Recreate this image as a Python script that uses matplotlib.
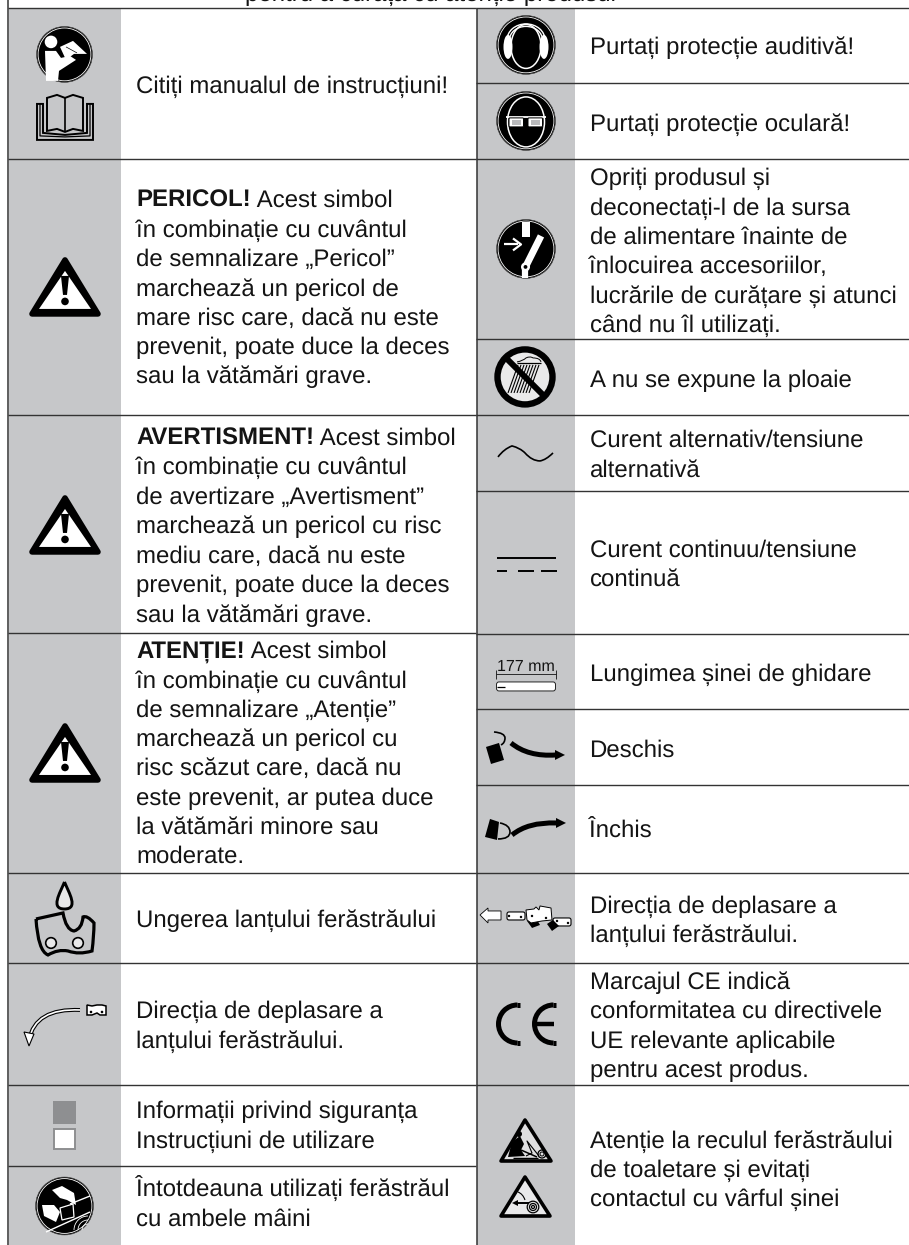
import matplotlib
matplotlib.use('Agg')
import matplotlib.pyplot as plt
from matplotlib.patches import Circle, Ellipse, Polygon, PathPatch, Rectangle, FancyBboxPatch, Arc
from matplotlib.path import Path

GRAY = '#c6c7c9'
LINE = '#333333'
INK = '#141414'
FS = 17.55

# table layout (pixels)
left_edges = [8, 159, 415, 633, 873, 963, 1085, 1166]
right_edges = [8, 83, 159, 339, 415, 491, 634, 709, 785, 873, 963, 1085]

# (baseline, text) per cell
left_lines = [
    (93, 'Citiți manualul de instrucțiuni!'),
    (236.5, 'în combinație cu cuvântul'),
    (266, 'de semnalizare „Pericol”'),
    (295.5, 'marchează un pericol de'),
    (325, 'mare risc care, dacă nu este'),
    (354, 'prevenit, poate duce la deces'),
    (383, 'sau la vătămări grave.'),
    (474, 'în combinație cu cuvântul'),
    (503.5, 'de avertizare „Avertisment”'),
    (533, 'marchează un pericol cu risc'),
    (562.5, 'mediu care, dacă nu este'),
    (592, 'prevenit, poate duce la deces'),
    (621.5, 'sau la vătămări grave.'),
    (688, 'în combinație cu cuvântul'),
    (717, 'de semnalizare „Atenție”'),
    (746, 'marchează un pericol cu'),
    (775, 'risc scăzut care, dacă nu'),
    (804.5, 'este prevenit, ar putea duce'),
    (834, 'la vătămări minore sau'),
    (863, 'moderate.'),
    (927, 'Ungerea lanțului ferăstrăului'),
    (1018, 'Direcția de deplasare a'),
    (1048, 'lanțului ferăstrăului.'),
    (1118, 'Informații privind siguranța'),
    (1148, 'Instrucțiuni de utilizare'),
    (1197, 'Întotdeauna utilizați ferăstrăul'),
    (1226, 'cu ambele mâini'),
]
left_bold = [
    (207, 'PERICOL!', ' Acest simbol'),
    (445, 'AVERTISMENT!', ' Acest simbol'),
    (658, 'ATENȚIE!', ' Acest simbol'),
]
right_lines = [
    (54, 'Purtați protecție auditivă!'),
    (131, 'Purtați protecție oculară!'),
    (185, 'Opriți produsul și'),
    (214.5, 'deconectați-l de la sursa'),
    (244, 'de alimentare înainte de'),
    (273, 'înlocuirea accesoriilor,'),
    (303, 'lucrările de curățare și atunci'),
    (332, 'când nu îl utilizați.'),
    (387, 'A nu se expune la ploaie'),
    (447, 'Curent alternativ/tensiune'),
    (477, 'alternativă'),
    (557, 'Curent continuu/tensiune'),
    (586, 'continuă'),
    (681, 'Lungimea șinei de ghidare'),
    (757, 'Deschis'),
    (838, 'Închis'),
    (913, 'Direcția de deplasare a'),
    (942, 'lanțului ferăstrăului.'),
    (989, 'Marcajul CE indică'),
    (1018, 'conformitatea cu directivele'),
    (1048, 'UE relevante aplicabile'),
    (1077, 'pentru acest produs.'),
    (1148, 'Atenție la reculul ferăstrăului'),
    (1177, 'de toaletare și evitați'),
    (1206, 'contactul cu vârful șinei'),
]
top_text = 'pentru a curăța cu atenție produsul'

plt.rcParams['font.family'] = ['Liberation Sans', 'DejaVu Sans']
plt.rcParams['text.hinting'] = 'no_hinting'
plt.rcParams['text.hinting_factor'] = 1

fig = plt.figure(figsize=(9.09, 12.451), dpi=100)
ax = fig.add_axes([0, 0, 1, 1])
ax.set_xlim(0, 909)
ax.set_ylim(1245, 0)
ax.axis('off')


def poly(pts, fc='black', ec='none', lw=0, z=3, **kw):
    ax.add_patch(Polygon(pts, closed=True, fc=fc, ec=ec, lw=lw, zorder=z, **kw))


def curve(pts, color='black', lw=1.0, z=3, cap='butt'):
    # quadratic bezier segments through control points
    codes = [Path.MOVETO] + [Path.CURVE3] * (len(pts) - 1)
    ax.add_patch(PathPatch(Path(pts, codes), fc='none', ec=color, lw=lw, zorder=z, capstyle=cap))


def seg(xs, ys, color='black', lw=1.0, z=3, cap='butt'):
    ax.plot(xs, ys, color=color, lw=lw, zorder=z, solid_capstyle=cap)


def disk(cx, cy, r):
    ax.add_patch(Circle((cx, cy), r, fc='black', ec='none', zorder=3))
    ax.add_patch(Circle((cx, cy), r - 1.6, fc='none', ec='white', lw=0.6, zorder=4))
    ax.add_patch(Circle((cx, cy), r - 0.1, fc='none', ec='#555555', lw=0.5, zorder=4))


def warning(cx, top):
    poly([(cx, top + 6), (cx - 33, top + 60), (cx + 33, top + 60)], ec='black', lw=4.0, joinstyle='round')
    poly([(cx, top + 17), (cx - 26, top + 55), (cx + 26, top + 55)], fc='white', z=4)
    poly([(cx - 4, top + 22), (cx + 4, top + 22), (cx + 2, top + 41), (cx - 2, top + 41)], z=5)
    ax.add_patch(Circle((cx, top + 47.5), 3.8, fc='black', zorder=5))


# cells
ax.add_patch(Rectangle((9, 8), 112, 1237, fc=GRAY, ec='none', zorder=1))
ax.add_patch(Rectangle((477, 8), 98, 1237, fc=GRAY, ec='none', zorder=1))
seg([8, 8], [0, 1245], LINE, 1.1, 2)
seg([476.5, 476.5], [8, 1245], LINE, 1.1, 2)
for y in left_edges:
    seg([8, 476], [y, y], LINE, 1.0, 2)
for y in right_edges:
    seg([476, 909], [y, y], LINE, 1.0, 2)

# text
ax.text(430, 0.5, top_text, fontsize=FS, color=INK, ha='center', va='baseline', clip_on=True)
for y, s in left_lines:
    ax.text(136, y, s, fontsize=FS, color=INK, va='baseline')
for y, s in right_lines:
    ax.text(589.5, y, s, fontsize=FS, color=INK, va='baseline')
fig.canvas.draw()
rend = fig.canvas.get_renderer()
for y, b, s in left_bold:
    t = ax.text(136, y, b, fontsize=FS, color=INK, va='baseline', fontweight='bold')
    ext = t.get_window_extent(rend)
    ax.text(ext.x1, y, s, fontsize=FS, color=INK, va='baseline')

# read manual
disk(64.5, 54.5, 28)
ax.add_patch(Circle((51, 42), 6.3, fc='white', zorder=5))
poly([(45, 51), (56, 51), (61, 58), (70, 56), (76, 60), (59, 71), (58, 81), (46, 81)], fc='white', z=5)
poly([(60, 47), (73, 41), (87, 54), (74, 54), (66, 60)], fc='white', z=5)
seg([66, 77], [47, 53], 'black', 0.5, 6)

# book
poly([(37, 104), (43, 104), (43, 133), (65, 135), (87, 133), (87, 104), (93, 104), (93, 140), (37, 140)],
     fc='none', ec='black', lw=1.4)
seg([40, 40, 65, 90, 90], [104, 136, 137, 136, 104], 'black', 0.9)
poly([(47, 98), (57, 95), (65, 98), (73, 95), (83, 98), (83, 131), (73, 129), (65, 132), (57, 129), (47, 131)],
     fc='none', ec='black', lw=1.4)
seg([65, 65], [98, 132], 'black', 1.2)

# warnings
warning(65, 254)
warning(65, 492)
warning(65, 720)

# hearing protection
disk(526, 45, 29.5)
ax.add_patch(Ellipse((526, 46.5), 30, 44, fc='black', ec='white', lw=1.1, zorder=5))
ax.add_patch(Arc((526, 40), 38, 32, theta1=180, theta2=360, ec='white', lw=1.0, zorder=5))
ax.add_patch(Arc((526, 40), 33, 27, theta1=180, theta2=360, ec='white', lw=1.0, zorder=5))
ax.add_patch(Ellipse((508, 47), 9, 24, fc='white', zorder=6))
ax.add_patch(Ellipse((544, 47), 9, 24, fc='white', zorder=6))

# eye protection
disk(526, 121, 29.5)
ax.add_patch(Ellipse((526, 122), 37, 50, fc='black', ec='white', lw=1.1, zorder=5))
seg([506, 546], [117.5, 117.5], 'white', 1.3, 6)
for x0 in (509, 528):
    ax.add_patch(FancyBboxPatch((x0 + 1, 119), 12.5, 7, boxstyle='round,pad=1', fc='white', ec='black', lw=0.7, zorder=6))
    ax.add_patch(Rectangle((x0 + 3, 120.5), 8.5, 5, fc='#b9babc', ec='none', zorder=7))

# switch off
disk(526, 249, 29.5)
ax.add_patch(Rectangle((522, 222), 8, 15.5, fc='white', zorder=5))
seg([525, 541], [268, 236], 'white', 5.0, 5)
seg([525, 525], [268, 278], 'white', 4.5, 5)
ax.add_patch(Circle((525.5, 267), 4.5, fc='white', zorder=6))
ax.add_patch(Circle((525.5, 267), 1.9, fc='black', zorder=7))
seg([504, 518], [244.5, 244.5], 'white', 1.6, 5)
seg([513, 521, 513], [238.5, 244.5, 250.5], 'white', 1.6, 5)

# no rain
ax.add_patch(Circle((525, 377), 27.5, fc='#e9e9ea', ec='black', lw=4.6, zorder=3))
rain_x = [518, 521, 524, 527, 530, 533, 536, 539]
for x in rain_x:
    seg([x, x - 10], [365, 393], 'black', 0.8, 4)
curve([(517, 362), (523, 361), (526, 358), (530, 356), (533, 358), (540, 358), (541, 362)], 'black', 0.7, 4)
seg([517, 541], [363, 363], 'black', 0.9, 4)
seg([506, 544], [358, 396], 'black', 4.3, 5)

# alternating current
curve([(498, 457), (504, 449), (512, 446), (520, 448), (525, 453), (532, 461), (540, 461), (546, 460), (553, 453)], 'black', 1.2)

# direct current
seg([497, 556], [558.5, 558.5], 'black', 1.4)
for xa, xb in ((497, 507), (518, 534), (541, 557)):
    seg([xa, xb], [571, 571], 'black', 1.4)

# bar length
ax.text(526, 671, '177 mm', fontsize=11.6, color=INK, ha='center', va='baseline')
seg([496, 556], [674, 674], '#111111', 0.6)
seg([496, 496], [670, 679], '#111111', 0.6)
seg([555.5, 555.5], [670, 679], '#111111', 0.6)
ax.add_patch(FancyBboxPatch((499, 684.5), 54, 4, boxstyle='round,pad=2.5', fc='white', ec='#222222', lw=0.7, zorder=3))
seg([497, 505], [687, 687], 'black', 0.9, 4)

# open / closed
poly([(486, 747), (499, 743), (504, 760), (491, 764)])
curve([(494, 732), (505, 733), (505, 738), (505, 743), (501, 745)], 'black', 1.2)
curve([(511, 743), (528, 757), (556, 755)], 'black', 3.6)
poly([(565, 755), (555, 750), (555, 760)])
poly([(490, 819), (499, 822), (497, 840), (485, 837)])
curve([(500, 823), (510, 825), (510, 832), (510, 839), (498, 839)], 'black', 1.2)
curve([(512, 835), (528, 822), (556, 823)], 'black', 3.6)
poly([(566, 823), (556, 818), (556, 828)])

# chain direction
poly([(480, 915), (488, 908), (488, 911), (501, 911), (501, 920), (488, 920), (488, 923)], fc='white', ec='black', lw=0.6)
ax.add_patch(FancyBboxPatch((509, 914), 14, 4, boxstyle='round,pad=2', fc='white', ec='black', lw=0.8, zorder=3))
ax.add_patch(FancyBboxPatch((555, 920), 14, 4, boxstyle='round,pad=2', fc='white', ec='black', lw=0.8, zorder=3))
poly([(527, 921), (532, 928), (540, 925), (536, 918)], z=3)
poly([(547, 924), (552, 931), (559, 926), (553, 920)], z=3)
poly([(526, 910), (534, 909), (536, 907), (539, 910), (540, 906), (551, 908), (552, 920), (542, 921), (531, 923), (527, 920)],
     fc='white', ec='black', lw=0.7, z=4)
for x, y in ((509, 916), (521, 917), (532, 916), (546, 918), (557, 921), (568, 923)):
    ax.add_patch(Circle((x, y), 1.2, fc='black', zorder=6))

# oil
drop = Path([(64.5, 882), (60, 893), (50, 909), (64.5, 909), (79, 909), (69, 893), (64.5, 882)],
            [Path.MOVETO] + [Path.CURVE4] * 6)
ax.add_patch(PathPatch(drop, fc='#e8e8e9', ec='black', lw=2.1, zorder=3))
link = Path([(36, 919), (63, 913), (66, 930), (74, 931), (82, 929), (83, 917), (87, 915), (94, 923), (94, 936), (92, 951),
             (79, 955), (68, 951), (58, 949), (48, 955), (38, 951), (36, 919)],
            [Path.MOVETO, Path.LINETO] + [Path.CURVE3] * 14)
ax.add_patch(PathPatch(link, fc=GRAY, ec='black', lw=2.3, zorder=3))
for x in (51, 78):
    ax.add_patch(Circle((x, 943), 5.3, fc='#e8e8e9', ec='black', lw=1.2, zorder=4))

# curved direction arrow
curve([(80, 1010), (35, 1008), (29, 1040)], 'black', 2.8)
curve([(80, 1010), (35, 1008), (29, 1040)], 'white', 1.2, 4)
poly([(29, 1046), (24, 1032), (34, 1034)], fc='white', ec='black', lw=0.8, z=5)
poly([(87, 1005), (92, 1006), (97, 1005), (102, 1005), (106, 1006), (106, 1015), (100, 1015), (97, 1013), (92, 1015), (87, 1015)],
     fc='white', ec='black', lw=1.1)
for x in (91, 102):
    ax.add_patch(Circle((x, 1012), 1.3, fc='black', zorder=5))

# info squares
ax.add_patch(Rectangle((53, 1101), 23, 23, fc='#8e8f91', ec='none', zorder=3))
ax.add_patch(Rectangle((54, 1129), 21, 20, fc='white', ec='#8e8f91', lw=1.4, zorder=3))

# two hands
disk(64.5, 1206, 29)
poly([(52, 1190), (62, 1186), (74, 1193), (76, 1205), (67, 1200), (60, 1198)], fc='white', z=5)
poly([(42, 1205), (54, 1205), (60, 1212), (56, 1222), (44, 1216)], fc='white', z=5)
poly([(60, 1208), (73, 1204), (74, 1217), (62, 1220)], fc='black', ec='white', lw=0.9, z=6)
seg([46, 90], [1232, 1212], 'white', 1.0, 5)
seg([70, 90], [1204, 1196], 'white', 1.0, 5)
for r in (6, 10, 14):
    ax.add_patch(Arc((88, 1230), 2 * r, 2 * r, theta1=180, theta2=270, ec='white', lw=0.6, zorder=5))

# CE mark
ax.add_patch(Arc((517.5, 1024), 38, 38, theta1=90, theta2=270, ec='black', lw=3.6, zorder=3))
ax.add_patch(Arc((553.5, 1024), 38, 38, theta1=90, theta2=270, ec='black', lw=3.6, zorder=3))
seg([517, 519.5], [1005, 1005], 'black', 3.6)
seg([517, 519.5], [1043, 1043], 'black', 3.6)
seg([553, 556], [1005, 1005], 'black', 3.6)
seg([553, 556], [1043, 1043], 'black', 3.6)
seg([536, 554], [1024, 1024], 'black', 3.2)

# kickback
poly([(525, 1120), (501, 1161), (551, 1161)], fc='#dfdfe0', ec='black', lw=2.6, joinstyle='round')
poly([(508, 1157), (512, 1142), (520, 1136), (524, 1144), (521, 1150), (525, 1156)], z=4)
ax.add_patch(Circle((519, 1134), 3, fc='black', zorder=4))
seg([521, 537], [1150, 1157], 'black', 1.1, 4)
seg([526, 532, 527, 539], [1156, 1153, 1141, 1156], 'black', 0.8, 4)
ax.add_patch(Circle((542, 1154), 4, fc='none', ec='black', lw=0.9, zorder=4))
ax.add_patch(Circle((542, 1154), 2, fc='none', ec='black', lw=0.7, zorder=4))
seg([513, 538], [1158, 1158], 'black', 1.0, 4)

poly([(525, 1177), (501, 1216), (550, 1216)], fc='#e9e9ea', ec='black', lw=2.6, joinstyle='round')
for r in (1.5, 3.5, 5.8):
    ax.add_patch(Circle((533, 1207), r, fc='none', ec='black', lw=0.9, zorder=4))
seg([515, 529], [1203, 1203], 'black', 1.4, 4)
poly([(512, 1203), (518, 1200), (518, 1206)], z=4)
curve([(518, 1192), (523, 1194), (525, 1200)], 'black', 0.8, 4)

fig.savefig('out.png', dpi=100)
